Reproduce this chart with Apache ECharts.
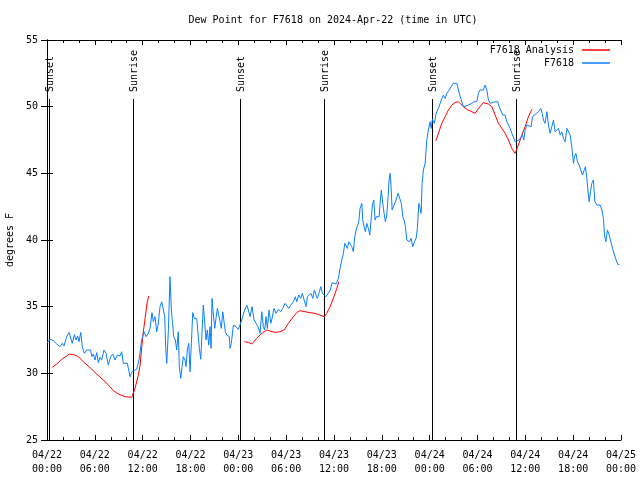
<!DOCTYPE html>
<html><head><meta charset="utf-8">
<script src="https://cdn.jsdelivr.net/npm/echarts@6/dist/echarts.min.js"></script>
<style>html,body{margin:0;padding:0;background:#fff}#c{width:640px;height:480px}</style>
</head><body><div id="c"></div>
<script>
// hours after 2024-04-22 00:00 UTC
const xTickLabels = ['04/22\n00:00','04/22\n06:00','04/22\n12:00','04/22\n18:00','04/23\n00:00','04/23\n06:00','04/23\n12:00','04/23\n18:00','04/24\n00:00','04/24\n06:00','04/24\n12:00','04/24\n18:00','04/25\n00:00'];
const sunHours = [0.21, 10.83, 24.25, 34.79, 48.34, 58.88];
const sunLabels = ['Sunset','Sunrise','Sunset','Sunrise','Sunset','Sunrise'];

const stationData = [
[0.00,32.27],[0.38,32.55],[0.79,32.45],[1.22,32.2],[1.63,32.0],[1.92,32.25],[2.13,32.05],[2.47,32.75],[2.76,33.07],[3.01,33.0],
[3.17,32.25],[3.43,32.9],[3.64,32.5],[3.85,32.8],[4.02,32.37],[4.23,33.07],[4.43,32.0],[4.68,31.5],[4.98,31.75],[5.48,31.75],
[5.61,31.25],[5.81,31.45],[6.02,31.0],[6.24,31.55],[6.44,30.8],[6.65,31.2],[6.86,31.0],[7.15,31.75],[7.40,31.5],[7.69,30.62],
[7.99,31.25],[8.24,31.45],[8.53,31.0],[8.82,31.37],[9.16,31.3],[9.37,31.62],[9.57,30.75],[10.08,30.75],[10.41,29.75],[10.66,30.12],
[10.92,30.2],[11.25,30.3],[11.54,31.0],[11.67,31.12],[11.88,32.5],[12.17,33.12],[12.42,32.75],[12.71,33.0],[12.92,33.37],[13.17,34.55],
[13.34,33.87],[13.55,34.25],[13.76,33.12],[13.93,33.62],[14.18,35.0],[14.39,35.37],[14.59,35.25],[14.77,34.25],[14.89,31.87],[15.02,30.75],
[15.22,33.12],[15.43,37.25],[15.60,34.75],[15.77,34.75],[15.90,32.75],[16.10,32.5],[16.27,31.75],[16.47,33.12],[16.60,30.5],[16.78,29.62],
[16.94,30.5],[17.10,31.25],[17.32,31.0],[17.44,30.5],[17.60,31.75],[17.78,32.25],[17.94,30.12],[18.11,32.25],[18.28,34.55],[18.48,34.12],
[18.78,34.12],[18.98,34.2],[19.11,31.87],[19.29,31.05],[19.41,32.62],[19.61,35.12],[19.79,33.75],[19.95,32.5],[20.11,33.25],[20.29,32.12],
[20.45,33.5],[20.58,31.87],[20.70,35.62],[20.87,34.37],[21.04,33.37],[21.20,34.12],[21.37,34.87],[21.54,34.37],[21.71,33.87],[21.87,33.37],
[22.05,34.62],[22.21,34.75],[22.37,33.12],[22.55,32.87],[22.71,32.87],[22.87,32.75],[22.96,31.87],[23.12,32.25],[23.38,33.62],[23.71,33.5],
[24.00,33.3],[24.22,33.25],[24.43,34.0],[24.72,34.62],[25.06,35.12],[25.26,34.75],[25.47,34.25],[25.72,35.0],[25.97,34.0],[26.22,33.75],
[26.47,33.5],[26.73,33.0],[26.94,34.62],[27.14,33.5],[27.31,33.25],[27.48,34.25],[27.64,33.37],[27.85,34.75],[28.07,33.75],[28.23,34.12],
[28.48,34.87],[28.73,34.5],[29.02,34.8],[29.32,34.62],[29.57,34.87],[29.86,35.25],[30.07,35.37],[30.33,34.87],[30.58,35.12],[30.90,35.37],
[31.15,35.75],[31.33,35.37],[31.58,35.87],[31.83,35.62],[32.03,36.0],[32.25,35.5],[32.50,35.0],[32.66,35.75],[32.91,35.75],[33.12,36.0],
[33.34,35.62],[33.54,36.25],[33.75,35.87],[33.91,35.62],[34.17,36.12],[34.34,36.5],[34.54,36.0],[34.79,36.12],[35.01,35.75],[35.26,36.0],
[35.51,36.2],[35.76,36.8],[36.01,36.87],[36.26,36.7],[36.55,37.12],[36.76,37.87],[36.98,38.5],[37.18,39.0],[37.35,39.75],[37.52,39.87],
[37.68,39.37],[37.85,39.87],[38.02,40.0],[38.23,39.5],[38.43,39.12],[38.61,40.25],[38.77,40.75],[38.93,40.75],[39.11,41.37],[39.27,42.37],
[39.49,42.75],[39.61,41.5],[39.77,41.0],[39.94,40.62],[40.11,41.25],[40.31,40.87],[40.49,40.37],[40.65,41.5],[40.82,42.62],[40.99,43.0],
[41.15,41.5],[41.32,41.75],[41.49,41.87],[41.66,41.75],[41.82,43.0],[41.94,43.75],[42.12,42.75],[42.28,42.0],[42.45,41.37],[42.62,41.87],
[42.79,43.25],[42.91,44.5],[43.04,45.0],[43.16,44.0],[43.29,42.25],[43.54,42.25],[43.79,43.0],[44.04,43.5],[44.29,43.5],[44.45,42.75],
[44.63,41.75],[44.79,41.5],[44.96,41.0],[45.13,40.0],[45.30,40.12],[45.46,39.87],[45.67,40.12],[45.88,39.5],[46.09,39.87],[46.30,40.12],
[46.46,40.87],[46.64,42.75],[46.80,42.37],[46.93,42.0],[47.05,44.25],[47.21,45.25],[47.43,45.75],[47.64,47.5],[47.84,48.25],[48.06,48.87],
[48.18,48.37],[48.34,49.05],[48.59,48.75],[48.81,49.5],[49.10,49.87],[49.31,50.25],[49.52,50.62],[49.72,50.87],[49.94,50.62],[50.15,51.0],
[50.44,51.25],[50.69,51.5],[50.94,51.75],[51.41,51.75],[51.61,51.25],[51.78,50.87],[52.03,50.75],[52.23,50.0],[52.45,50.12],[52.86,50.12],
[53.29,50.25],[53.58,50.37],[53.91,50.37],[54.12,51.0],[54.33,51.25],[54.54,51.37],[54.74,51.25],[54.96,51.62],[55.17,51.25],[55.37,50.5],
[55.58,50.25],[55.80,50.37],[56.21,50.37],[56.55,50.37],[56.71,50.0],[56.96,49.87],[57.18,49.37],[57.47,49.37],[57.68,48.87],[57.88,48.75],
[58.09,48.37],[58.31,48.0],[58.51,48.0],[58.72,47.37],[58.93,47.37],[59.22,47.5],[59.44,47.62],[59.64,47.87],[59.81,47.5],[59.97,48.25],
[60.19,48.62],[60.39,48.75],[60.73,48.5],[60.89,49.25],[61.14,49.37],[61.65,49.62],[61.94,49.87],[62.11,49.5],[62.27,49.0],[62.48,48.75],
[62.70,49.62],[62.90,48.62],[63.11,48.0],[63.32,48.5],[63.53,49.0],[63.74,48.12],[63.95,48.25],[64.15,48.37],[64.37,47.87],[64.58,48.12],
[64.78,47.62],[64.99,47.37],[65.21,48.37],[65.41,48.25],[65.62,47.87],[65.83,47.0],[66.04,45.75],[66.16,46.25],[66.34,46.5],[66.54,45.87],
[66.75,45.62],[66.96,45.25],[67.16,44.87],[67.38,45.0],[67.54,45.5],[67.72,44.62],[67.84,43.75],[68.01,42.87],[68.17,43.62],[68.34,44.25],
[68.54,44.5],[68.72,42.87],[68.97,42.62],[69.17,42.5],[69.39,42.62],[69.60,42.25],[69.80,41.62],[69.93,40.37],[70.10,39.87],[70.30,40.75],
[70.51,40.37],[70.73,39.87],[70.93,39.37],[71.18,39.25],[71.39,38.5],[71.61,38.17],[71.81,38.17]
];

const analysisData = [
[0.66,30.45],[1.22,30.7],[1.84,31.05],[2.47,31.3],[2.80,31.45],[3.51,31.37],[3.93,31.25],[4.55,30.87],[5.40,30.42],[6.24,29.95],
[7.06,29.5],[7.90,29.0],[8.32,28.7],[8.95,28.45],[9.79,28.25],[10.63,28.2],[10.75,28.25],[11.04,28.87],[11.46,29.87],[11.67,30.6],
[12.01,32.75],[12.30,34.12],[12.58,35.37],[12.76,35.8],
[18.0,'-'],
[24.76,32.37],[25.26,32.32],[25.68,32.2],[26.31,32.62],[26.94,33.0],[27.57,33.25],[27.98,33.17],[28.61,33.07],[29.23,33.12],[29.74,33.25],
[30.28,33.75],[30.90,34.25],[31.33,34.55],[31.74,34.7],[32.37,34.62],[33.00,34.55],[33.63,34.5],[34.25,34.37],[34.79,34.25],[35.09,34.5],
[35.51,35.0],[35.92,35.62],[36.35,36.37],[36.60,36.87],
[42.0,'-'],
[48.77,47.43],[49.10,48.0],[49.52,48.75],[49.94,49.25],[50.35,49.75],[50.78,50.12],[51.19,50.32],[51.61,50.37],[51.82,50.3],[52.23,50.0],
[52.66,49.8],[53.29,49.62],[53.70,49.5],[54.12,49.87],[54.74,50.3],[55.37,50.2],[55.80,50.0],[56.21,49.37],[56.63,48.75],[57.05,48.37],
[57.47,48.0],[57.88,47.5],[58.31,46.87],[58.72,46.5],[58.85,46.5],[59.13,47.12],[59.56,47.87],[59.97,48.5],[60.39,49.25],[60.82,49.8]
];

const FONT = 'DejaVu Sans Mono';
const chart = echarts.init(document.getElementById('c'), null, {renderer: 'canvas'});
const xCommon = {
  type: 'value', min: 0, max: 72, interval: 6,
  axisLine: {show: true, lineStyle: {color: '#000', width: 1}},
  axisTick: {show: true, inside: true, length: 5, lineStyle: {color: '#000'}},
  minorTick: {show: true, splitNumber: 3, length: 3, lineStyle: {color: '#000'}},
  splitLine: {show: false}, minorSplitLine: {show: false}
};
const yCommon = {
  type: 'value', min: 25, max: 55, interval: 5,
  axisLine: {show: true, lineStyle: {color: '#000', width: 1}},
  axisTick: {show: true, inside: true, length: 6, lineStyle: {color: '#000'}},
  splitLine: {show: false}
};
chart.setOption({
  animation: false,
  backgroundColor: '#fff',
  title: {
    text: 'Dew Point for F7618 on 2024-Apr-22 (time in UTC)',
    left: 333, top: 15, padding: 0, textAlign: 'center',
    textStyle: {fontFamily: FONT, fontSize: 10, fontWeight: 'normal', color: '#000'}
  },
  legend: {
    data: [{name: 'F7618 Analysis', icon: 'rect'}, {name: 'F7618', icon: 'rect'}],
    orient: 'vertical', align: 'right', right: 30, top: 44, padding: 0,
    itemWidth: 28, itemHeight: 1.5, itemGap: 1,
    textStyle: {fontFamily: FONT, fontSize: 10, color: '#000', lineHeight: 12, padding: [0, 3, 0, 0]}
  },
  grid: {left: 47, right: 19, top: 40, bottom: 40, containLabel: false, outerBoundsMode: 'none'},
  xAxis: [
    Object.assign({}, xCommon, {
      position: 'bottom',
      axisLabel: {
        show: true, margin: 8, color: '#000', fontFamily: FONT, fontSize: 10, lineHeight: 14,
        formatter: v => xTickLabels[Math.round(v / 6)] || ''
      }
    }),
    Object.assign({}, xCommon, {position: 'top', axisLabel: {show: false}})
  ],
  yAxis: [
    Object.assign({}, yCommon, {
      position: 'left',
      name: 'degrees F', nameLocation: 'middle', nameGap: 32, nameRotate: 90,
      nameTextStyle: {fontFamily: FONT, fontSize: 10, color: '#000'},
      axisLabel: {show: true, margin: 9, color: '#000', fontFamily: FONT, fontSize: 10}
    }),
    Object.assign({}, yCommon, {position: 'right', axisLabel: {show: false}})
  ],
  series: [
    {
      type: 'custom', name: 'sun', silent: true, clip: false,
      data: sunHours.map((h, i) => [h, i]),
      renderItem: function (params, api) {
        const h = api.value(0);
        const idx = api.value(1);
        const pTop = api.coord([h, 55]);
        const pBot = api.coord([h, 25]);
        const x = Math.round(pTop[0]) + 0.5;
        return {
          type: 'group',
          children: [
            {type: 'line', shape: {x1: x, y1: pTop[1] + 59, x2: x, y2: pBot[1]},
             style: {stroke: '#000', lineWidth: 1}},
            {type: 'text', x: x + 1, y: pTop[1] + 52, rotation: Math.PI / 2,
             style: {text: sunLabels[idx], align: 'left', verticalAlign: 'middle',
                     font: '10px "DejaVu Sans Mono"', fill: '#000'}}
          ]
        };
      }
    },
    {
      type: 'line', name: 'F7618 Analysis', data: analysisData,
      symbol: 'none', connectNulls: false,
      lineStyle: {color: '#ff0000', width: 1}, itemStyle: {color: '#ff0000'}
    },
    {
      type: 'line', name: 'F7618', data: stationData,
      symbol: 'none',
      lineStyle: {color: '#0a80ff', width: 1}, itemStyle: {color: '#0a80ff'}
    }
  ]
});
</script>
</body></html>
